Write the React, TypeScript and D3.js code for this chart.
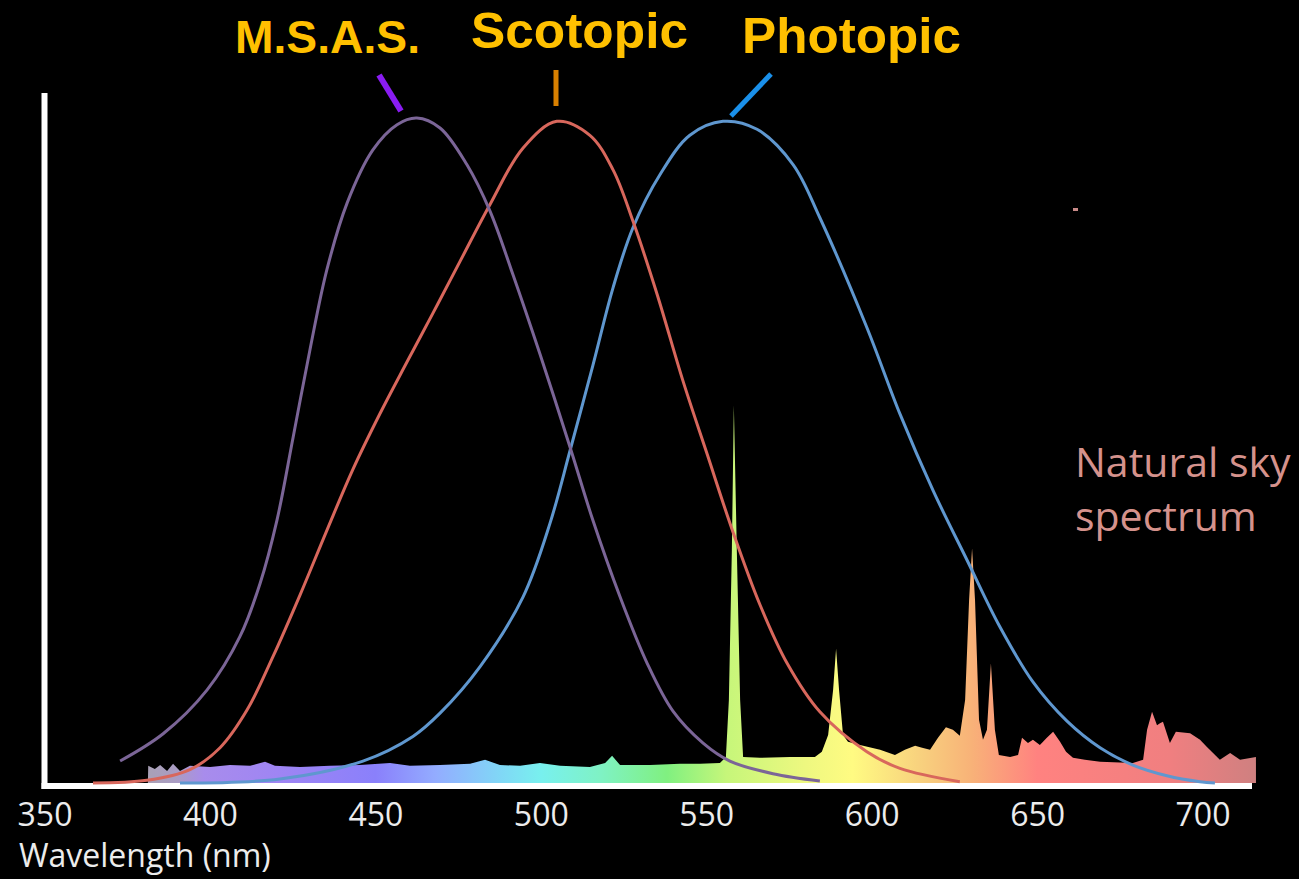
import React from "react";
import * as d3 from "d3";

// ---- data (wavelength nm, relative sensitivity / intensity) ----
const tickValues = [350, 400, 450, 500, 550, 600, 650, 700];

const msas: [number, number][] = [
  [372.7, 0.033], [385.7, 0.074], [399.0, 0.14], [408.9, 0.22], [415.0, 0.3],
  [420.1, 0.395], [425.0, 0.52], [430.1, 0.652], [435.2, 0.772], [441.3, 0.872],
  [449.1, 0.952], [456.4, 0.99], [462.4, 1.0], [469.4, 0.985], [477.5, 0.93],
  [484.5, 0.86], [491.4, 0.765], [499.6, 0.645], [508.7, 0.505], [515.6, 0.395],
  [523.8, 0.28], [532.0, 0.18], [539.8, 0.108], [548.9, 0.06], [557.0, 0.033],
  [570.0, 0.014], [584.2, 0.003],
];

const scotopic: [number, number][] = [
  [364.5, 0.0], [380.8, 0.004], [393.8, 0.02], [402.9, 0.053], [411.1, 0.11],
  [418.9, 0.19], [427.1, 0.283], [435.2, 0.38], [443.1, 0.472], [451.3, 0.556],
  [459.4, 0.633], [467.3, 0.707], [475.4, 0.784], [484.5, 0.87], [494.5, 0.955],
  [504.7, 0.995], [514.7, 0.974], [521.7, 0.922], [527.7, 0.845], [535.0, 0.735],
  [542.8, 0.605], [550.1, 0.495], [557.9, 0.378], [566.1, 0.268], [574.3, 0.18],
  [584.2, 0.107], [598.4, 0.047], [608.4, 0.022], [626.5, 0.002],
];

const photopic: [number, number][] = [
  [390.8, 0.0], [421.0, 0.006], [446.1, 0.033], [461.2, 0.07], [469.4, 0.105],
  [481.5, 0.175], [494.5, 0.28], [502.6, 0.39], [508.7, 0.5], [515.6, 0.628],
  [521.7, 0.745], [527.7, 0.835], [535.9, 0.915], [544.9, 0.974], [554.9, 0.995],
  [565.2, 0.983], [576.1, 0.93], [584.2, 0.85], [598.4, 0.685], [608.4, 0.555],
  [618.4, 0.44], [628.7, 0.335], [638.6, 0.235], [648.6, 0.152], [658.9, 0.093],
  [668.9, 0.053], [678.8, 0.027], [689.1, 0.011], [699.1, 0.002], [703.6, 0.0],
];

const skySpectrum: [number, number][] = [
  [381.1, 0], [381.2, 0.026], [383.2, 0.021], [384.8, 0.027], [386.9, 0.018],
  [388.7, 0.029], [390.8, 0.018], [393.8, 0.026], [399.9, 0.024], [405.9, 0.027],
  [412.0, 0.026], [416.5, 0.032], [419.5, 0.026], [427.1, 0.024], [436.1, 0.026],
  [445.2, 0.027], [454.3, 0.03], [460.3, 0.026], [469.4, 0.027], [478.5, 0.029],
  [483.0, 0.035], [487.5, 0.027], [493.6, 0.026], [499.6, 0.03], [505.7, 0.026],
  [514.7, 0.024], [519.3, 0.03], [521.4, 0.041], [523.8, 0.027], [532.9, 0.027],
  [541.9, 0.029], [548.0, 0.029], [554.0, 0.03], [555.8, 0.039], [556.7, 0.125],
  [557.6, 0.35], [558.2, 0.568], [559.1, 0.35], [560.1, 0.125], [561.0, 0.039],
  [566.1, 0.038], [575.2, 0.039], [582.7, 0.039], [584.8, 0.047], [586.7, 0.072],
  [588.2, 0.14], [589.1, 0.202], [590.0, 0.14], [591.2, 0.072], [592.7, 0.062],
  [596.3, 0.057], [602.4, 0.05], [606.9, 0.042], [609.9, 0.05], [613.0, 0.056],
  [615.1, 0.053], [617.5, 0.05], [619.9, 0.068], [622.3, 0.084], [624.4, 0.08],
  [626.5, 0.071], [628.1, 0.125], [629.3, 0.275], [630.2, 0.353], [631.1, 0.275],
  [632.3, 0.095], [633.5, 0.065], [634.7, 0.08], [635.9, 0.18], [637.1, 0.08],
  [638.3, 0.042], [641.7, 0.039], [644.1, 0.042], [645.3, 0.068], [647.1, 0.06],
  [648.6, 0.065], [650.7, 0.057], [652.8, 0.068], [654.7, 0.077], [656.8, 0.062],
  [658.6, 0.047], [660.7, 0.038], [664.3, 0.035], [668.9, 0.032], [678.8, 0.03],
  [681.9, 0.035], [683.1, 0.08], [684.6, 0.107], [686.1, 0.087], [687.0, 0.09],
  [687.9, 0.092], [690.0, 0.06], [691.8, 0.077], [696.1, 0.075], [699.1, 0.065],
  [701.2, 0.054], [705.1, 0.035], [708.2, 0.045], [711.2, 0.035], [716.0, 0.039],
  [716.01, 0],
];

// gradient colour stops along wavelength
const spectrumStops: [number, string][] = [
  [381, "#a9a1b6"], [390, "#aa9cc4"], [398, "#a88cec"], [420, "#9f85f3"],
  [450, "#8a80fb"], [468, "#93acff"], [488, "#80d8f6"], [500, "#78f0ee"],
  [518, "#7ff2c4"], [538, "#80f080"], [556, "#c6f67a"], [580, "#eef880"],
  [594, "#fffb82"], [614, "#f8d27e"], [630, "#f8b278"], [650, "#ff8280"],
  [690, "#f07f80"], [716, "#cf8080"],
];

const labels = ["M.S.A.S.", "Scotopic", "Photopic"];

export default function App() {
  const W = 1299;
  const H = 879;
  const x = d3.scaleLinear().domain([350, 700]).range([45, 1203]);
  const y = d3.scaleLinear().domain([0, 1]).range([783, 118]);

  const line = d3
    .line<[number, number]>()
    .x((d) => x(d[0]))
    .y((d) => y(d[1]))
    .curve(d3.curveCatmullRom.alpha(0.5));

  const area = d3
    .area<[number, number]>()
    .x((d) => x(d[0]))
    .y0(y(0))
    .y1((d) => y(d[1]))
    .curve(d3.curveLinear);

  const gx1 = x(381);
  const gx2 = x(716);

  const tickFont = "'Open Sans', 'DejaVu Sans', sans-serif";
  const boldFont = "'Liberation Sans', Arial, sans-serif";

  return (
    <svg
      width={W}
      height={H}
      style={{ position: "fixed", left: 0, top: 0, display: "block" }}
    >
      <defs>
        <linearGradient
          id="skyGrad"
          gradientUnits="userSpaceOnUse"
          x1={gx1}
          x2={gx2}
          y1={0}
          y2={0}
        >
          {spectrumStops.map(([nm, c], i) => (
            <stop key={i} offset={(x(nm) - gx1) / (gx2 - gx1)} stopColor={c} />
          ))}
        </linearGradient>
      </defs>
      <rect x={0} y={0} width={W} height={H} fill="#000" />

      {/* axes */}
      <line x1={44.5} x2={44.5} y1={93} y2={789} stroke="#fff" strokeWidth={6} />
      <line x1={41.5} x2={1252} y1={786} y2={786} stroke="#fff" strokeWidth={6} />

      {/* sky spectrum */}
      <path d={area(skySpectrum) || ""} fill="url(#skyGrad)" />

      {/* sensitivity curves */}
      <path d={line(photopic) || ""} fill="none" stroke="#5f97cf" strokeWidth={3} />
      <path d={line(scotopic) || ""} fill="none" stroke="#d8675c" strokeWidth={3} />
      <path d={line(msas) || ""} fill="none" stroke="#7b6597" strokeWidth={3} />

      {/* tick labels */}
      {tickValues.map((t) => (
        <text
          key={t}
          x={x(t)}
          y={826}
          textAnchor="middle"
          fontFamily={tickFont}
          fontSize={32}
          fill="#ececec"
        >
          {t}
        </text>
      ))}
      <text x={19} y={867} fontFamily={tickFont} fontSize={32} fill="#ececec">
        Wavelength (nm)
      </text>

      {/* curve labels */}
      <text x={235} y={53} fontFamily={boldFont} fontWeight="bold" fontSize={47} fill="#ffc000" textLength={185} lengthAdjust="spacingAndGlyphs">
        {labels[0]}
      </text>
      <text x={471} y={48} fontFamily={boldFont} fontWeight="bold" fontSize={50} fill="#ffc000" textLength={217} lengthAdjust="spacingAndGlyphs">
        {labels[1]}
      </text>
      <text x={742} y={53} fontFamily={boldFont} fontWeight="bold" fontSize={50} fill="#ffc000" textLength={219} lengthAdjust="spacingAndGlyphs">
        {labels[2]}
      </text>

      {/* pointer lines */}
      <line x1={379} y1={75} x2={401} y2={111} stroke="#8a1cf2" strokeWidth={6} />
      <line x1={556} y1={70} x2={556} y2={106} stroke="#d98000" strokeWidth={5} />
      <line x1={771} y1={74} x2={731} y2={116} stroke="#1a90ea" strokeWidth={5} />

      {/* annotation */}
      <text x={1075} y={477} fontFamily={tickFont} fontSize={41} fill="#d5928c">
        Natural sky
      </text>
      <text x={1075} y={531} fontFamily={tickFont} fontSize={41} fill="#d5928c">
        spectrum
      </text>
      <rect x={1073} y={208} width={5} height={3} fill="#c88a88" />
    </svg>
  );
}
